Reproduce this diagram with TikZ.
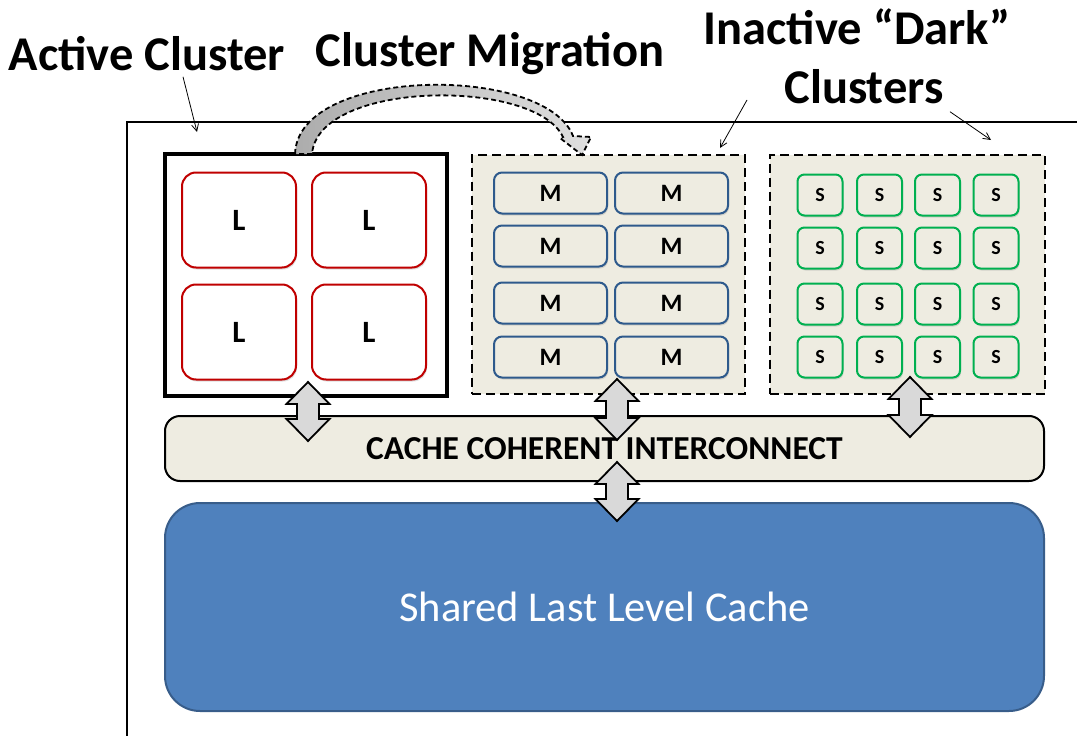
\documentclass[tikz,border=0pt]{standalone}
\usepackage{fontspec}
\setmainfont{Carlito}
\usetikzlibrary{arrows.meta,shadows}
\definecolor{beige}{HTML}{EEECE1}
\definecolor{lred}{HTML}{C00000}
\definecolor{mblue}{HTML}{2E5A8C}
\definecolor{sgreen}{HTML}{00B050}
\definecolor{llcfill}{HTML}{4F81BD}
\definecolor{llcdraw}{HTML}{385D8A}
\definecolor{arrgray}{HTML}{D9D9D9}
\tikzset{
  cellshadow/.style={drop shadow={opacity=0.25,shadow xshift=1pt,shadow yshift=-2pt}},
  lcell/.style={draw=lred,line width=2,fill=white,rounded corners=14,minimum width=114,minimum height=95,
    font=\fontsize{31}{34}\selectfont\bfseries,cellshadow},
  mcell/.style={draw=mblue,line width=2,fill=beige,rounded corners=8,minimum width=113,minimum height=41,
    font=\fontsize{25}{28}\selectfont\bfseries,cellshadow},
  scell/.style={draw=sgreen,line width=2,fill=beige,rounded corners=7,minimum width=45,minimum height=41,
    font=\fontsize{20}{23}\selectfont\bfseries,cellshadow},
  darkcl/.style={draw,line width=2,dash pattern=on 9pt off 5pt,fill=beige},
  biglabel/.style={font=\fontsize{48.5}{52}\selectfont\bfseries},
  annot/.style={draw,line width=0.8,-{Straight Barb[length=7,width=7]}},
  dblarr/.style={draw,line width=1.8,fill=arrgray,line join=miter},
}
% double vertical arrow: x, ytop, ybottom
\newcommand\vdarrow[3]{%
  \path[dblarr] (#1,#2) -- (#1+21.5,#2+22) -- (#1+11,#2+22) -- (#1+11,#3-22) -- (#1+21.5,#3-22)
    -- (#1,#3) -- (#1-21.5,#3-22) -- (#1-11,#3-22) -- (#1-11,#2+22) -- (#1-21.5,#2+22) -- cycle;}
\begin{document}
\begin{tikzpicture}[x=1pt,y=-1pt]
\useasboundingbox (0,0) rectangle (1077,736);
\clip (0,0) rectangle (1077,736);
% chip outline
\draw[line width=2] (127,122) rectangle (1110,770);

% clusters
\node[draw,line width=4,minimum width=282,minimum height=242] (active) at (306,275) {};
\node[darkcl,minimum width=273,minimum height=239] (mclus) at (608.5,274) {};
\node[darkcl,minimum width=275,minimum height=239] (sclus) at (907.5,274) {};

% L cells
\node[lcell] (L1) at (239,220) {L};
\node[lcell] (L2) at (369,220) {L};
\node[lcell] (L3) at (239,332) {L};
\node[lcell] (L4) at (369,332) {L};

% M cells
\foreach \r/\yy in {1/193,2/246,3/303,4/357}{
  \node[mcell] (M\r a) at (550.5,\yy) {M};
  \node[mcell] (M\r b) at (671.5,\yy) {M};
}
% S cells
\foreach \r/\yy in {1/195,2/248,3/304,4/357}{
  \foreach \c/\xx in {1/820,2/879.5,3/937.5,4/996}{
    \node[scell] (S\r\c) at (\xx,\yy) {S};
  }
}

% interconnect & LLC
\node[draw,line width=2,fill=beige,rounded corners=15,minimum width=879,minimum height=65,
  font=\fontsize{33.5}{36}\selectfont\bfseries] (icn) at (604.5,448.5) {CACHE COHERENT INTERCONNECT};
\node[draw=llcdraw,line width=2,fill=llcfill,rounded corners=35,minimum width=879,minimum height=208,
  text=white,font=\fontsize{42.5}{46}\selectfont] (llc) at (604.5,607) {Shared Last Level Cache};

% double arrows
\vdarrow{308}{382}{441}
\vdarrow{617}{379}{440}
\vdarrow{910}{377}{437}
\vdarrow{617}{462}{521}

% migration arrow
\path[draw,line width=1.8,dash pattern=on 5pt off 3pt,left color=gray!65,right color=gray!25,line join=miter]
  (295,154) .. controls (298,66) and (545,64) .. (573,136) -- (591,137) -- (582,155) -- (560,138) -- (563,137)
  .. controls (535,78) and (318,80) .. (312,154) -- cycle;

% labels
\node[biglabel] (actlbl) at (147,54) {Active Cluster};
\node[biglabel] (miglbl) at (490,54) {Cluster Migration};
\node[biglabel] (inlbl1) at (857,27) {Inactive “Dark”};
\node[biglabel] (inlbl2) at (864,87) {Clusters};
\coordinate (aend) at (197,132);
\coordinate (mend) at (720,148);
\coordinate (send) at (991,140);
\draw[annot] ([xshift=36,yshift=-2]actlbl.south) -- (aend);
\draw[annot] (747,100) -- (mend);
\draw[annot] ([xshift=86,yshift=-4]inlbl2.south) -- (send);
\end{tikzpicture}
\end{document}
